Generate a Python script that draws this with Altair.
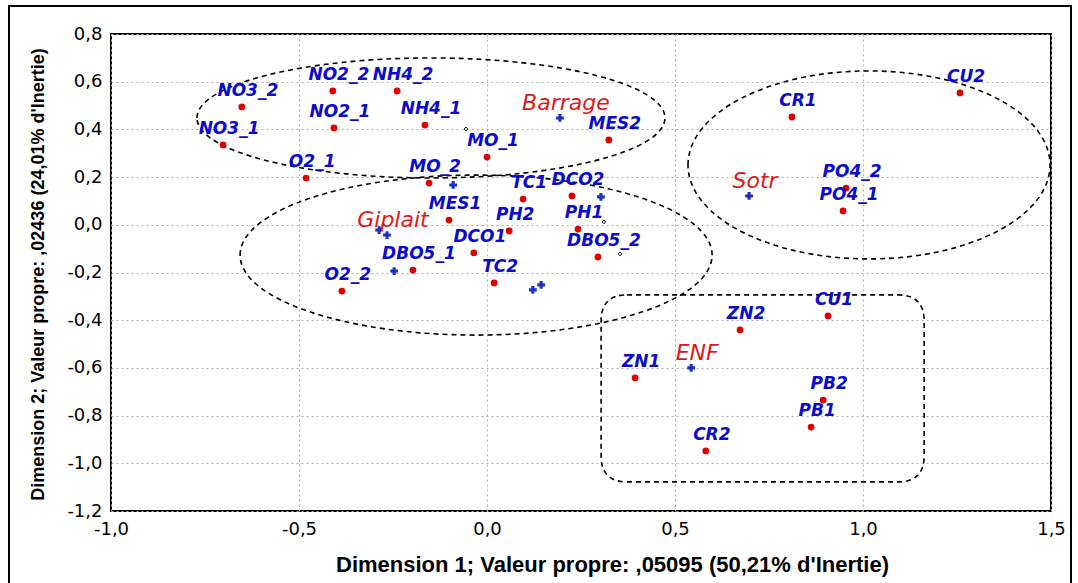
import altair as alt
import pandas as pd

# ---- Active points (red dots, blue labels) ----
labels = ["NO3_2", "NO3_1", "NO2_2", "NH4_2", "NO2_1", "NH4_1", "O2_1", "MO_2", "MO_1", "MES2",
          "TC1", "DCO2", "MES1", "PH2", "PH1", "DCO1", "DBO5_1", "DBO5_2", "O2_2", "TC2",
          "CR1", "CU2", "PO4_2", "PO4_1", "CU1", "ZN2", "ZN1", "PB2", "PB1", "CR2"]
dim1 = [-0.652, -0.702, -0.410, -0.239, -0.407, -0.165, -0.481, -0.154, 0.000, 0.324,
        0.096, 0.226, -0.101, 0.059, 0.242, -0.035, -0.197, 0.295, -0.386, 0.019,
        0.811, 1.258, 0.955, 0.947, 0.907, 0.673, 0.394, 0.894, 0.862, 0.582]
dim2 = [0.494, 0.335, 0.561, 0.561, 0.406, 0.418, 0.196, 0.175, 0.284, 0.356,
        0.108, 0.121, 0.020, -0.026, -0.018, -0.118, -0.190, -0.135, -0.278, -0.244,
        0.452, 0.553, 0.154, 0.058, -0.382, -0.441, -0.642, -0.735, -0.848, -0.948]

# ---- Sites (blue crosses with red names) ----
sites = ["Barrage", "Giplait", "Sotr", "ENF"]
site_d1 = [0.194, -0.266, 0.697, 0.543]
site_d2 = [0.448, -0.043, 0.121, -0.600]

# ---- Other supplementary points (blue crosses, unlabelled) ----
sup_d1 = [-0.090, 0.303, -0.247, 0.144, 0.122, -0.287]
sup_d2 = [0.167, 0.117, -0.194, -0.252, -0.273, -0.022]

# ---- Tiny black marks ----
blk_d1 = [-0.056, 0.311, 0.354]
blk_d2 = [0.402, 0.012, -0.122]

# ---- Grouping outlines: centre of each group outline ----
grp_names = ["Barrage", "Giplait", "Sotr", "ENF"]
grp_d1 = [-0.149, -0.029, 1.016, 0.733]
grp_d2 = [0.448, -0.127, 0.251, -0.686]

x_ticks = [-1.0, -0.5, 0.0, 0.5, 1.0, 1.5]
y_ticks = [-1.2, -1.0, -0.8, -0.6, -0.4, -0.2, 0.0, 0.2, 0.4, 0.6, 0.8]

pts = pd.DataFrame({"label": labels, "d1": dim1, "d2": dim2})
site_df = pd.DataFrame({"label": sites, "d1": site_d1, "d2": site_d2})
sup_df = pd.DataFrame({"d1": sup_d1, "d2": sup_d2})
blk_df = pd.DataFrame({"d1": blk_d1, "d2": blk_d2})
grp_df = pd.DataFrame({"name": grp_names, "d1": grp_d1, "d2": grp_d2})

label_expr = "replace(replace(format(datum.value, '.1f'), '.', ','), '\u2212', '-')"

X = alt.X("d1:Q",
          scale=alt.Scale(domain=[-1.0, 1.5], nice=False, zero=False),
          axis=alt.Axis(values=x_ticks, labelExpr=label_expr, labelFlush=False,
                        title="Dimension 1; Valeur propre: ,05095 (50,21% d'Inertie)",
                        titleX=501, titleY=53, titleAnchor="start", titleAlign="center",
                        titleBaseline="middle"))
Y = alt.Y("d2:Q",
          scale=alt.Scale(domain=[-1.2, 0.8], nice=False, zero=False),
          axis=alt.Axis(values=y_ticks, labelExpr=label_expr,
                        title="Dimension 2; Valeur propre: ,02436 (24,01% d'Inertie)",
                        titleX=-73, titleY=240, titleAngle=270, titleAlign="center",
                        titleBaseline="middle"))

Xp = alt.X("d1:Q", scale=alt.Scale(domain=[-1.0, 1.5], nice=False, zero=False))
Yp = alt.Y("d2:Q", scale=alt.Scale(domain=[-1.2, 0.8], nice=False, zero=False))

# Outline shapes (unit-path symbols, width = sqrt(size))
def ellipse_path(r):
    k = 0.5523
    return (f"M -1 0 C -1 {-k*r:.4f} {-k:.4f} {-r:.4f} 0 {-r:.4f} "
            f"C {k:.4f} {-r:.4f} 1 {-k*r:.4f} 1 0 "
            f"C 1 {k*r:.4f} {k:.4f} {r:.4f} 0 {r:.4f} "
            f"C {-k:.4f} {r:.4f} -1 {k*r:.4f} -1 0 Z")

def rrect_path(h, q):
    return (f"M {-1+q:.4f} {-h:.4f} L {1-q:.4f} {-h:.4f} Q 1 {-h:.4f} 1 {-h+q:.4f} "
            f"L 1 {h-q:.4f} Q 1 {h:.4f} {1-q:.4f} {h:.4f} L {-1+q:.4f} {h:.4f} "
            f"Q -1 {h:.4f} -1 {h-q:.4f} L -1 {-h+q:.4f} Q -1 {-h:.4f} {-1+q:.4f} {-h:.4f} Z")

outline_specs = [
    ("Barrage", ellipse_path(60 / 234), 468),
    ("Giplait", ellipse_path(80 / 236), 472),
    ("Sotr", ellipse_path(94 / 181), 362),
    ("ENF", rrect_path(93.5 / 161.5, 26 / 161.5), 323),
]
outlines = []
for name, path, w in outline_specs:
    outlines.append(
        alt.Chart(grp_df[grp_df["name"] == name])
        .mark_point(shape=path, size=w * w, filled=False, stroke="black",
                    strokeWidth=1.6, strokeDash=[5, 4], opacity=1)
        .encode(x=Xp, y=Yp)
    )

base_axes = alt.Chart(pts).mark_point(opacity=0).encode(x=X, y=Y)

dots = alt.Chart(pts).mark_circle(size=46, color="#e00000", opacity=1).encode(x=Xp, y=Yp)
dot_labels = alt.Chart(pts).mark_text(
    font="DejaVu Sans", fontSize=17, fontWeight="bold", fontStyle="italic",
    color="#0a0ad0", dx=6, dy=-16, align="center", baseline="middle"
).encode(x=Xp, y=Yp, text="label:N")

site_cross = alt.Chart(site_df).mark_point(shape="cross", size=60, filled=True,
                                           color="#1a30c8", opacity=1).encode(x=Xp, y=Yp)
site_labels = alt.Chart(site_df).mark_text(
    font="DejaVu Sans", fontSize=22, fontStyle="italic", color="#e01818",
    dx=6, dy=-15, align="center", baseline="middle"
).encode(x=Xp, y=Yp, text="label:N")

sup_cross = alt.Chart(sup_df).mark_point(shape="cross", size=60, filled=True,
                                         color="#1a30c8", opacity=1).encode(x=Xp, y=Yp)
blk = alt.Chart(blk_df).mark_point(shape="diamond", size=14, filled=False,
                                   color="black", strokeWidth=1, opacity=1).encode(x=Xp, y=Yp)

frame = alt.Chart(pd.DataFrame({"a": [0]})).mark_rect(
    filled=False, stroke="black", strokeWidth=2, fill=None
).encode(x=alt.value(-102), x2=alt.value(960), y=alt.value(-28), y2=alt.value(580))

chart = alt.layer(
    base_axes, *outlines, blk, sup_cross, site_cross, dots, dot_labels, site_labels, frame
).properties(
    width=940, height=477,
    autosize=alt.AutoSizeParams(type="none"),
    padding={"left": 111, "top": 34, "right": 27, "bottom": 72},
    background="white",
).configure_view(
    stroke="black", strokeWidth=2
).configure_axis(
    domain=False, ticks=False,
    grid=True, gridColor="#b0b0b0", gridDash=[2, 3], gridWidth=1,
    labelFont="DejaVu Sans", labelFontSize=18, labelColor="black", labelPadding=9,
    titleFont="Liberation Sans", titleFontWeight="bold", titleColor="black",
).configure_axisX(
    titleFontSize=22
).configure_axisY(
    titleFontSize=18
)

chart.save("out.html", embed_options={"renderer": "svg", "actions": False})
